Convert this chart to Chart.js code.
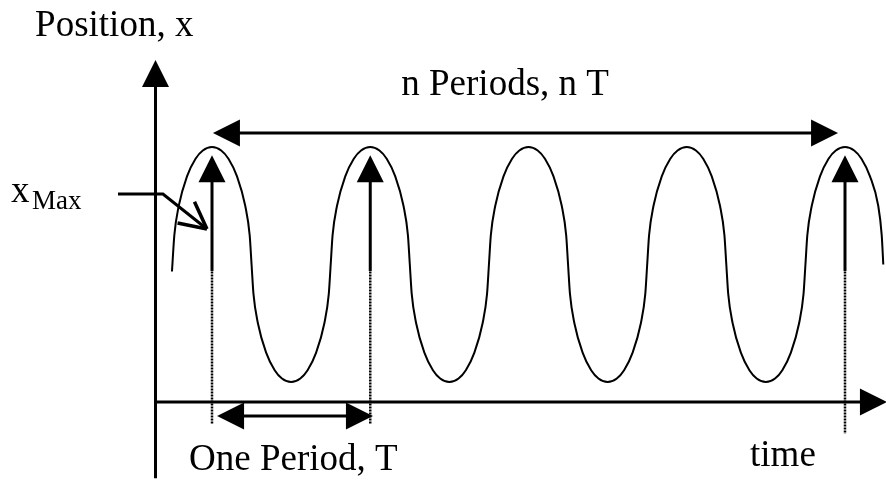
<!DOCTYPE html>
<html>
<head>
<meta charset="utf-8">
<script src="https://cdn.jsdelivr.net/npm/chart.js@4.4.1/dist/chart.umd.min.js"></script>
<style>
  html, body { margin: 0; padding: 0; background: #fff; }
</style>
</head>
<body>
<canvas id="oscChart" width="886" height="481"></canvas>
<script>
// time is measured in periods (T = 1), position in amplitudes (xMax = 1)
const waveTime = [
  -0.253, -0.238, -0.21, -0.158, -0.104, -0.058, 0, 0.058, 0.104, 0.158, 0.21, 0.238, 0.25,
  0.262, 0.29, 0.342, 0.396, 0.442, 0.5, 0.558, 0.604, 0.658, 0.71, 0.738, 0.75,
  0.762, 0.79, 0.842, 0.896, 0.942, 1, 1.058, 1.104, 1.158, 1.21, 1.238, 1.25,
  1.262, 1.29, 1.342, 1.396, 1.442, 1.5, 1.558, 1.604, 1.658, 1.71, 1.738, 1.75,
  1.762, 1.79, 1.842, 1.896, 1.942, 2, 2.058, 2.104, 2.158, 2.21, 2.238, 2.25,
  2.262, 2.29, 2.342, 2.396, 2.442, 2.5, 2.558, 2.604, 2.658, 2.71, 2.738, 2.75,
  2.762, 2.79, 2.842, 2.896, 2.942, 3, 3.058, 3.104, 3.158, 3.21, 3.238, 3.25,
  3.262, 3.29, 3.342, 3.396, 3.442, 3.5, 3.558, 3.604, 3.658, 3.71, 3.738, 3.75,
  3.762, 3.79, 3.842, 3.896, 3.942, 4, 4.058, 4.104, 4.158, 4.21, 4.232, 4.242
];
const wavePos = [
  -0.06, 0.25, 0.5, 0.75, 0.9, 0.97, 1, 0.97, 0.9, 0.75, 0.5, 0.25, 0,
  -0.25, -0.5, -0.75, -0.9, -0.97, -1, -0.97, -0.9, -0.75, -0.5, -0.25, 0,
  0.25, 0.5, 0.75, 0.9, 0.97, 1, 0.97, 0.9, 0.75, 0.5, 0.25, 0,
  -0.25, -0.5, -0.75, -0.9, -0.97, -1, -0.97, -0.9, -0.75, -0.5, -0.25, 0,
  0.25, 0.5, 0.75, 0.9, 0.97, 1, 0.97, 0.9, 0.75, 0.5, 0.25, 0,
  -0.25, -0.5, -0.75, -0.9, -0.97, -1, -0.97, -0.9, -0.75, -0.5, -0.25, 0,
  0.25, 0.5, 0.75, 0.9, 0.97, 1, 0.97, 0.9, 0.75, 0.5, 0.25, 0,
  -0.25, -0.5, -0.75, -0.9, -0.97, -1, -0.97, -0.9, -0.75, -0.5, -0.25, 0,
  0.25, 0.5, 0.75, 0.9, 0.97, 1, 0.97, 0.9, 0.75, 0.5, 0.25, 0
];

// peaks marked with an arrow and a dotted drop line
const markedPeaks = [0, 1, 4];
const dropTop = [-0.06, -0.06, -0.06];
const dropBottom = [-1.36, -1.36, -1.44];
const peakArrowFrom = -0.055;
const peakArrowTo = 0.93;

// axes: origin, ends
const originTime = -0.357;
const originPos = -1.17;
const timeAxisEnd = 4.265;
const posAxisTop = 1.74;
const posAxisBottom = -1.82;

// span arrows [fromTime, toTime, pos]
const onePeriod = [0.032, 1.017, -1.289];
const nPeriods = [0.006, 3.956, 1.119];

// xMax pointer path
const pointerTime = [-0.594, -0.31, -0.032];
const pointerPos = [0.6, 0.6, 0.302];

// text labels
const labelText = ['Position, x', 'n Periods, n T', 'One Period, T', 'time', 'x', 'Max'];
const labelTime = [-1.118, 1.852, -0.145, 3.4, -1.27, -1.137];
const labelPos = [1.945, 1.443, -1.749, -1.715, 0.532, 0.472];
const labelAlign = ['left', 'center', 'left', 'left', 'left', 'left'];
const labelSize = [37, 37, 37, 37, 37, 27];

const toPoints = (xs, ys) => xs.map((t, i) => ({ x: t, y: ys[i] }));

const datasets = [
  {
    data: toPoints(waveTime, wavePos),
    borderColor: '#000',
    borderWidth: 2,
    cubicInterpolationMode: 'monotone',
    pointRadius: 0,
    fill: false
  }
];
markedPeaks.forEach((t, i) => {
  datasets.push({
    data: [{ x: t, y: dropTop[i] }, { x: t, y: dropBottom[i] }],
    borderColor: '#000',
    borderWidth: 2.5,
    borderDash: [2, 1],
    pointRadius: 0,
    fill: false
  });
});

const diagram = {
  id: 'diagram',
  afterDatasetsDraw(chart) {
    const { ctx } = chart;
    const sx = chart.scales.x, sy = chart.scales.y;
    const px = t => sx.getPixelForValue(t);
    const py = v => sy.getPixelForValue(v);
    const L = 27, W = 13.5;

    ctx.save();
    ctx.fillStyle = '#000';
    ctx.strokeStyle = '#000';
    ctx.lineWidth = 3;
    ctx.lineCap = 'butt';

    function head(x0, y0, x1, y1) {
      const a = Math.atan2(y1 - y0, x1 - x0);
      const bx = x1 - L * Math.cos(a), by = y1 - L * Math.sin(a);
      ctx.beginPath();
      ctx.moveTo(x1, y1);
      ctx.lineTo(bx + W * Math.sin(a), by - W * Math.cos(a));
      ctx.lineTo(bx - W * Math.sin(a), by + W * Math.cos(a));
      ctx.closePath();
      ctx.fill();
    }
    function arrow(t0, v0, t1, v1, both) {
      const x0 = px(t0), y0 = py(v0), x1 = px(t1), y1 = py(v1);
      const a = Math.atan2(y1 - y0, x1 - x0);
      const s0 = both ? L - 2 : 0;
      ctx.beginPath();
      ctx.moveTo(x0 + s0 * Math.cos(a), y0 + s0 * Math.sin(a));
      ctx.lineTo(x1 - (L - 2) * Math.cos(a), y1 - (L - 2) * Math.sin(a));
      ctx.stroke();
      head(x0, y0, x1, y1);
      if (both) head(x1, y1, x0, y0);
    }

    // axes
    arrow(originTime, posAxisBottom, originTime, posAxisTop, false);
    arrow(originTime, originPos, timeAxisEnd, originPos, false);

    // peak arrows
    markedPeaks.forEach(t => arrow(t, peakArrowFrom, t, peakArrowTo, false));

    // spans
    arrow(onePeriod[0], onePeriod[2], onePeriod[1], onePeriod[2], true);
    arrow(nPeriods[0], nPeriods[2], nPeriods[1], nPeriods[2], true);

    // xMax pointer with open head
    ctx.beginPath();
    pointerTime.forEach((t, i) => {
      if (i === 0) ctx.moveTo(px(t), py(pointerPos[i]));
      else ctx.lineTo(px(t), py(pointerPos[i]));
    });
    ctx.stroke();
    const n = pointerTime.length;
    const tx = px(pointerTime[n - 1]), ty = py(pointerPos[n - 1]);
    const ang = Math.atan2(ty - py(pointerPos[n - 2]), tx - px(pointerTime[n - 2]));
    ctx.lineWidth = 3.5;
    ctx.beginPath();
    [-0.47, 0.47].forEach(d => {
      ctx.moveTo(tx, ty);
      ctx.lineTo(tx - 30 * Math.cos(ang + d), ty - 30 * Math.sin(ang + d));
    });
    ctx.stroke();

    // labels
    ctx.textBaseline = 'alphabetic';
    labelText.forEach((s, i) => {
      ctx.font = labelSize[i] + 'px "Liberation Serif", "Times New Roman", serif';
      ctx.textAlign = labelAlign[i];
      ctx.fillText(s, px(labelTime[i]), py(labelPos[i]));
    });
    ctx.restore();
  }
};

new Chart(document.getElementById('oscChart'), {
  type: 'line',
  data: { datasets },
  options: {
    responsive: false,
    animation: false,
    events: [],
    layout: { padding: 0 },
    plugins: {
      legend: { display: false },
      tooltip: { enabled: false }
    },
    scales: {
      x: { type: 'linear', min: -1.3397, max: 4.2591, display: false },
      y: { type: 'linear', min: -1.8426, max: 2.2511, display: false }
    }
  },
  plugins: [diagram]
});
</script>
</body>
</html>
